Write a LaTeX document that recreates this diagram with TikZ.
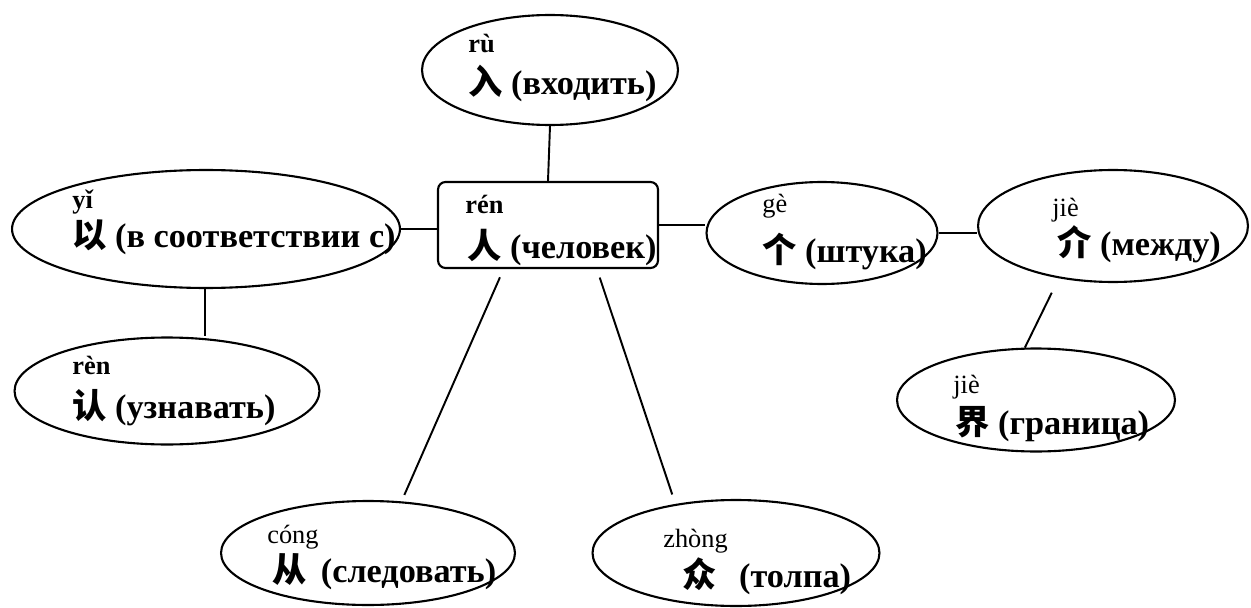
\documentclass[tikz,border=0pt]{standalone}
\usepackage{fontspec}
\setmainfont{Liberation Serif}
\newfontfamily\cjk{Noto Sans CJK SC}
\usetikzlibrary{shapes.geometric,calc}
\newcommand{\hz}[1]{{\cjk #1}}
\tikzset{
  oval/.style={ellipse,draw=black,line width=1.2pt,inner sep=0pt},
  headbox/.style={draw=black,rounded corners=1.5mm,line width=1.2pt,inner sep=0pt},
  link/.style={line width=1.1pt},
  pyn/.style={font=\fontsize{15}{17}\selectfont,inner sep=0pt,anchor=base west},
  pynb/.style={pyn,font=\fontsize{15}{17}\selectfont\bfseries},
  gls/.style={font=\fontsize{19.5}{22}\selectfont\bfseries,inner sep=0pt,anchor=base west},
}

\begin{document}
\begin{tikzpicture}[x=0.02cm,y=-0.02cm]
  \useasboundingbox (0,0) rectangle (1251,608);
  % shapes
  \node[headbox,minimum width=4.4cm,minimum height=1.72cm] (ren) at (548,225) {};
  \node[oval,minimum width=5.12cm,minimum height=2.2cm] (ru) at (550,70) {};
  \node[oval,minimum width=7.76cm,minimum height=2.36cm] (yi) at (206,229) {};
  \node[oval,minimum width=6.1cm,minimum height=2.14cm] (renk) at (167,391) {};
  \node[oval,minimum width=5.88cm,minimum height=2.08cm] (cong) at (368,553) {};
  \node[oval,minimum width=5.74cm,minimum height=2.12cm] (zhong) at (736,553) {};
  \node[oval,minimum width=4.62cm,minimum height=2.04cm] (ge) at (822,233) {};
  \node[oval,minimum width=5.4cm,minimum height=2.24cm] (jie) at (1113,226) {};
  \node[oval,minimum width=5.56cm,minimum height=2.06cm] (jiez) at (1036,400) {};

  % texts
  \node[pynb] (ren-py) at (465,214) {rén};
  \node[gls] (ren-tx) at (467,258) {\hz{人} (человек)};
  \node[pynb] (ru-py) at (468,53) {rù};
  \node[gls] (ru-tx) at (468,95) {\hz{入} (входить)};
  \node[pynb] (yi-py) at (72,208) {yǐ};
  \node[gls] (yi-tx) at (72,247) {\hz{以} (в соответствии с)};
  \node[pynb] (renk-py) at (72,374) {rèn};
  \node[gls] (renk-tx) at (72,418) {\hz{认} (узнавать)};
  \node[pyn] (cong-py) at (267,543) {cóng};
  \node[gls] (cong-tx) at (272,582) {\hz{从} \,(следовать)};
  \node[pyn] (zhong-py) at (663,547) {zhòng};
  \node[gls] (zhong-tx) at (682,587) {\hz{众}\hspace{0.45cm}(толпа)};
  \node[pyn] (ge-py) at (762,212) {gè};
  \node[gls] (ge-tx) at (762,262) {\hz{个} (штука)};
  \node[pyn] (jie-py) at (1052,216) {jiè};
  \node[gls] (jie-tx) at (1057,255) {\hz{介} (между)};
  \node[pyn] (jiez-py) at (953,393) {jiè};
  \node[gls] (jiez-tx) at (955,434) {\hz{界} (граница)};

  % connectors
  \draw[link] (ru.south) -- (ren.north);
  \draw[link] (yi.east) -- (yi.east -| ren.west);
  \draw[link] (ren.east) -- (ren.east -| ge.west);
  \draw[link] (ge.east) -- (ge.east -| jie.west);
  \draw[link] (yi.269) -- (yi.269 |- renk.north);
  \draw[link,shorten <=0.32cm] (jie.224) -- (jiez.102);
  \draw[link,shorten <=0.18cm,shorten >=0.14cm]
    ($(ren.south west)!0.3!(ren.south east)$) -- (cong.57);
  \draw[link,shorten <=0.18cm,shorten >=0.2cm]
    ($(ren.south west)!0.72!(ren.south east)$) -- (zhong.141);
\end{tikzpicture}
\end{document}
